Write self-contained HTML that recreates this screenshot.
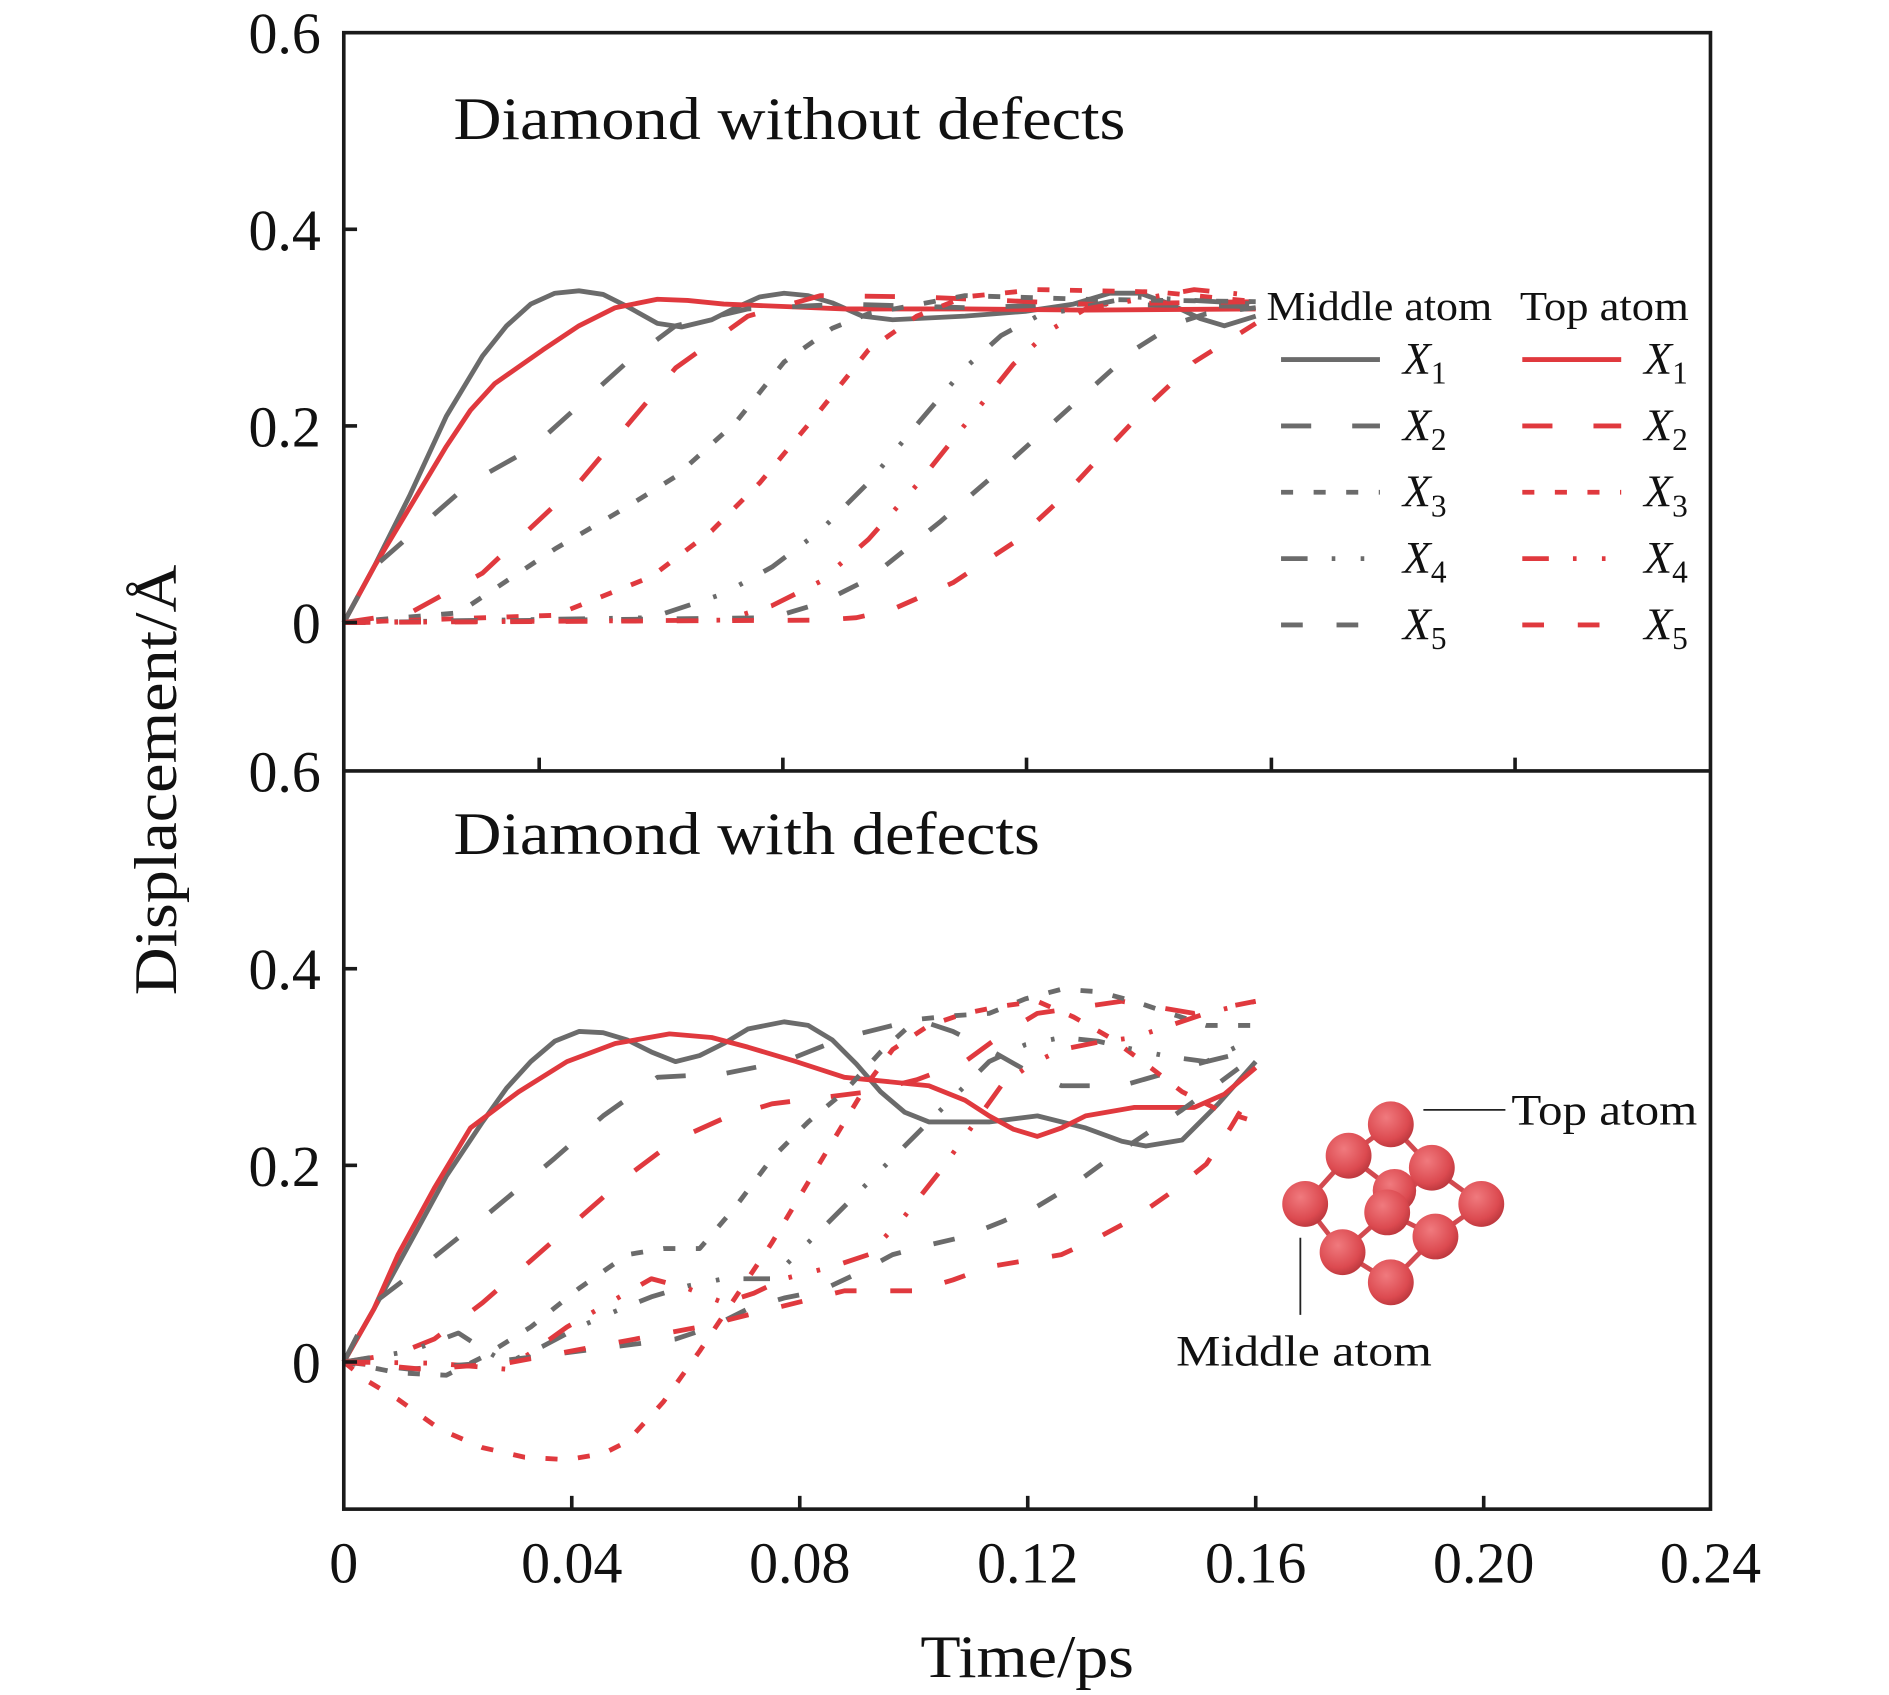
<!DOCTYPE html>
<html><head><meta charset="utf-8"><style>html,body{margin:0;padding:0;background:#fff}svg{display:block}</style></head>
<body>
<svg width="1889" height="1695" viewBox="0 0 1566 1405" xmlns="http://www.w3.org/2000/svg" font-family="Liberation Serif, serif" fill="#111">
<defs>
<radialGradient id="ball" cx="0.4" cy="0.35" r="0.7"><stop offset="0" stop-color="#f07a7e"/><stop offset="0.7" stop-color="#dc4a50"/><stop offset="1" stop-color="#b8353b"/></radialGradient>
</defs>
<g fill="none" stroke-width="4" stroke-linejoin="round">
<polyline stroke="#6b6b6b" points="285,516 310,470 340,410 370,345 400,295 420,270 440,252 460,243 480,241 500,244 520,254 545,268 565,271 590,265 610,255 630,246 650,243 670,245 690,251 715,262 740,265 800,262 850,258 890,252 920,243 945,243 970,252 995,264 1015,270 1041,262"/>
<polyline stroke="#e0393e" points="285,516 310,470 340,420 370,370 390,340 410,318 450,290 480,270 510,255 545,248 570,249 600,252 700,256 800,256 900,257 1041,256"/>
<polyline stroke="#6b6b6b" stroke-dasharray="25 34" points="285,516 310,470 390,400 440,372 470,345 520,300 560,270 620,256 700,252 800,255 900,252 1041,254"/>
<polyline stroke="#e0393e" stroke-dasharray="25 34" points="285,516 340,508 400,475 480,400 560,305 620,262 680,245 760,246 900,252 1041,250"/>
<polyline stroke="#6b6b6b" stroke-dasharray="10 17" points="285,516 380,508 460,455 520,420 560,395 610,350 650,300 690,272 720,260 800,245 900,248 1041,250"/>
<polyline stroke="#e0393e" stroke-dasharray="10 17" points="285,516 460,510 540,478 590,440 630,400 680,340 720,290 760,262 800,246 860,240 960,242 1041,250"/>
<polyline stroke="#6b6b6b" stroke-dasharray="22 20 3 21 3 20" points="285,516 540,512 600,492 640,470 680,440 720,400 760,352 800,305 830,278 860,262 940,246 1041,252"/>
<polyline stroke="#e0393e" stroke-dasharray="22 20 3 21 3 20" points="285,516 600,514 640,502 680,482 720,447 760,402 800,352 840,302 870,274 900,256 990,240 1041,245"/>
<polyline stroke="#6b6b6b" stroke-dasharray="18 28" points="285,516 640,512 680,500 720,480 780,432 840,380 890,335 940,290 975,268 1000,260 1041,255"/>
<polyline stroke="#e0393e" stroke-dasharray="18 28" points="285,516 680,514 710,512 740,505 790,483 840,450 880,413 920,370 955,333 990,300 1041,268"/>
<polyline stroke="#6b6b6b" points="285,1129 310,1085 340,1030 370,975 400,930 420,902 440,880 460,863 480,855 500,856 520,862 540,872 560,880 580,875 600,865 620,853 650,847 670,850 690,862 710,882 730,905 750,922 770,930 820,930 860,925 900,935 930,946 950,950 980,945 1010,915 1041,880"/>
<polyline stroke="#e0393e" points="285,1129 310,1085 330,1040 360,985 390,935 430,905 470,880 510,865 555,857 590,860 620,868 660,880 700,893 770,900 800,912 820,925 840,936 860,942 880,935 900,925 940,918 990,918 1015,907 1041,885"/>
<polyline stroke="#6b6b6b" stroke-dasharray="25 34" points="285,1129 310,1080 360,1042 400,1010 460,960 500,925 545,893 600,890 650,880 700,860 760,845 790,855 820,870 850,887 880,900 930,900 1000,880 1041,870"/>
<polyline stroke="#e0393e" stroke-dasharray="25 34" points="285,1129 330,1122 360,1110 400,1080 440,1045 480,1010 520,975 560,945 600,927 640,915 720,905 760,895 800,880 830,858 860,840 930,830 990,840 1041,830"/>
<polyline stroke="#6b6b6b" stroke-dasharray="10 17" points="285,1129 330,1138 370,1140 400,1125 440,1100 480,1068 520,1040 550,1035 580,1035 610,1000 640,960 670,930 700,905 730,872 760,845 790,842 820,840 850,828 880,820 910,822 940,830 970,840 1000,850 1041,850"/>
<polyline stroke="#e0393e" stroke-dasharray="10 17" points="285,1129 305,1145 330,1160 365,1185 400,1200 435,1208 470,1210 500,1205 520,1195 550,1162 580,1120 610,1075 640,1030 670,980 700,930 720,897 740,870 770,850 800,840 830,834 860,830 890,843 920,860 950,882 980,905 1010,920 1041,930"/>
<polyline stroke="#6b6b6b" stroke-dasharray="22 20 3 21 3 20" points="285,1129 340,1120 380,1105 400,1118 420,1130 450,1116 480,1100 510,1087 540,1075 570,1066 600,1060 640,1060 670,1030 700,1000 730,970 760,940 790,910 820,880 850,866 880,860 910,863 940,870 970,876 1000,880 1041,860"/>
<polyline stroke="#e0393e" stroke-dasharray="22 20 3 21 3 20" points="285,1129 360,1130 420,1135 445,1118 470,1100 505,1080 540,1060 570,1068 600,1080 625,1072 650,1060 690,1050 720,1040 750,1008 780,970 805,935 830,900 855,882 880,870 910,864 940,860 970,850 1000,840 1041,830"/>
<polyline stroke="#6b6b6b" stroke-dasharray="18 28" points="285,1129 340,1135 400,1130 480,1120 560,1110 590,1100 620,1085 650,1076 680,1070 710,1056 740,1040 770,1032 800,1025 830,1013 860,1000 890,982 920,960 950,940 980,920 1010,898 1041,875"/>
<polyline stroke="#e0393e" stroke-dasharray="18 28" points="285,1129 350,1135 420,1130 500,1115 580,1100 640,1085 700,1070 760,1070 790,1061 820,1050 850,1045 880,1040 910,1026 940,1010 970,989 1000,965 1020,935 1041,900"/>
</g>
<g stroke="#1a1a1a" stroke-width="3" fill="none">
<rect x="285" y="27" width="1133" height="1224"/>
<line x1="285" y1="639" x2="1418" y2="639"/>
<line x1="447" y1="639" x2="447" y2="628"/><line x1="649" y1="639" x2="649" y2="628"/><line x1="851" y1="639" x2="851" y2="628"/><line x1="1054" y1="639" x2="1054" y2="628"/><line x1="1256" y1="639" x2="1256" y2="628"/>
<line x1="474" y1="1251" x2="474" y2="1240"/><line x1="663" y1="1251" x2="663" y2="1240"/><line x1="852" y1="1251" x2="852" y2="1240"/><line x1="1041" y1="1251" x2="1041" y2="1240"/><line x1="1230" y1="1251" x2="1230" y2="1240"/>
<line x1="285" y1="190" x2="296" y2="190"/><line x1="285" y1="353" x2="296" y2="353"/><line x1="285" y1="516" x2="296" y2="516"/>
<line x1="285" y1="803" x2="296" y2="803"/><line x1="285" y1="966" x2="296" y2="966"/><line x1="285" y1="1129" x2="296" y2="1129"/>
</g>
<g font-size="48" text-anchor="end">
<text x="266" y="44">0.6</text><text x="266" y="207">0.4</text><text x="266" y="370">0.2</text><text x="266" y="533">0</text>
<text x="266" y="656">0.6</text><text x="266" y="820">0.4</text><text x="266" y="983">0.2</text><text x="266" y="1146">0</text>
</g>
<g font-size="48" text-anchor="middle">
<text x="285" y="1312">0</text><text x="474" y="1312">0.04</text><text x="663" y="1312">0.08</text><text x="852" y="1312">0.12</text><text x="1041" y="1312">0.16</text><text x="1230" y="1312">0.20</text><text x="1418" y="1312">0.24</text>
</g>
<text x="763" y="1390" font-size="50" textLength="177" lengthAdjust="spacingAndGlyphs">Time/ps</text>
<text transform="translate(146,825) rotate(-90)" font-size="50" textLength="357" lengthAdjust="spacingAndGlyphs">Displacement/Å</text>
<text x="376" y="115" font-size="50" textLength="557" lengthAdjust="spacingAndGlyphs">Diamond without defects</text>
<text x="376" y="708" font-size="50" textLength="486" lengthAdjust="spacingAndGlyphs">Diamond with defects</text>
<g font-size="34"><text x="1050" y="265" textLength="187" lengthAdjust="spacingAndGlyphs">Middle atom</text><text x="1260" y="265" textLength="140" lengthAdjust="spacingAndGlyphs">Top atom</text></g>
<g stroke-width="4">
<line x1="1062" y1="298" x2="1144" y2="298" stroke="#6b6b6b"/>
<line x1="1062" y1="353" x2="1144" y2="353" stroke="#6b6b6b" stroke-dasharray="25 34"/>
<line x1="1062" y1="408" x2="1144" y2="408" stroke="#6b6b6b" stroke-dasharray="10 17"/>
<line x1="1062" y1="463" x2="1144" y2="463" stroke="#6b6b6b" stroke-dasharray="22 20 3 21 3 20"/>
<line x1="1062" y1="518" x2="1144" y2="518" stroke="#6b6b6b" stroke-dasharray="18 28"/>
<line x1="1262" y1="298" x2="1344" y2="298" stroke="#e0393e"/>
<line x1="1262" y1="353" x2="1344" y2="353" stroke="#e0393e" stroke-dasharray="25 34"/>
<line x1="1262" y1="408" x2="1344" y2="408" stroke="#e0393e" stroke-dasharray="10 17"/>
<line x1="1262" y1="463" x2="1344" y2="463" stroke="#e0393e" stroke-dasharray="22 20 3 21 3 20"/>
<line x1="1262" y1="518" x2="1344" y2="518" stroke="#e0393e" stroke-dasharray="18 28"/>
</g>
<g font-size="38" font-style="italic">
<text x="1163" y="310">X<tspan font-size="26" font-style="normal" dy="8">1</tspan></text>
<text x="1163" y="365">X<tspan font-size="26" font-style="normal" dy="8">2</tspan></text>
<text x="1163" y="420">X<tspan font-size="26" font-style="normal" dy="8">3</tspan></text>
<text x="1163" y="475">X<tspan font-size="26" font-style="normal" dy="8">4</tspan></text>
<text x="1163" y="530">X<tspan font-size="26" font-style="normal" dy="8">5</tspan></text>
<text x="1363" y="310">X<tspan font-size="26" font-style="normal" dy="8">1</tspan></text>
<text x="1363" y="365">X<tspan font-size="26" font-style="normal" dy="8">2</tspan></text>
<text x="1363" y="420">X<tspan font-size="26" font-style="normal" dy="8">3</tspan></text>
<text x="1363" y="475">X<tspan font-size="26" font-style="normal" dy="8">4</tspan></text>
<text x="1363" y="530">X<tspan font-size="26" font-style="normal" dy="8">5</tspan></text>
</g>
<g stroke="#d24a50" stroke-width="4">
<line x1="1153" y1="932" x2="1118" y2="958"/><line x1="1153" y1="932" x2="1187" y2="968"/>
<line x1="1118" y1="958" x2="1082" y2="998"/><line x1="1118" y1="958" x2="1156" y2="987"/>
<line x1="1187" y1="968" x2="1228" y2="998"/><line x1="1187" y1="968" x2="1150" y2="1005"/>
<line x1="1082" y1="998" x2="1113" y2="1038"/><line x1="1228" y1="998" x2="1190" y2="1025"/>
<line x1="1113" y1="1038" x2="1153" y2="1063"/><line x1="1190" y1="1025" x2="1153" y2="1063"/>
<line x1="1150" y1="1005" x2="1190" y2="1025"/><line x1="1150" y1="1005" x2="1113" y2="1038"/>
</g>
<g fill="url(#ball)">
<circle cx="1153" cy="932" r="19"/><circle cx="1118" cy="958" r="19"/><circle cx="1156" cy="987" r="18"/><circle cx="1187" cy="968" r="19"/>
<circle cx="1082" cy="998" r="19"/><circle cx="1228" cy="998" r="19"/><circle cx="1150" cy="1005" r="19"/>
<circle cx="1113" cy="1038" r="19"/><circle cx="1190" cy="1025" r="19"/><circle cx="1153" cy="1063" r="19"/>
</g>
<g stroke="#222" stroke-width="1.5"><line x1="1180" y1="920" x2="1248" y2="920"/><line x1="1078" y1="1026" x2="1078" y2="1090"/></g>
<text x="1253" y="932" font-size="36" textLength="154" lengthAdjust="spacingAndGlyphs">Top atom</text>
<text x="975" y="1132" font-size="36" textLength="212" lengthAdjust="spacingAndGlyphs">Middle atom</text>
</svg>
</body></html>
